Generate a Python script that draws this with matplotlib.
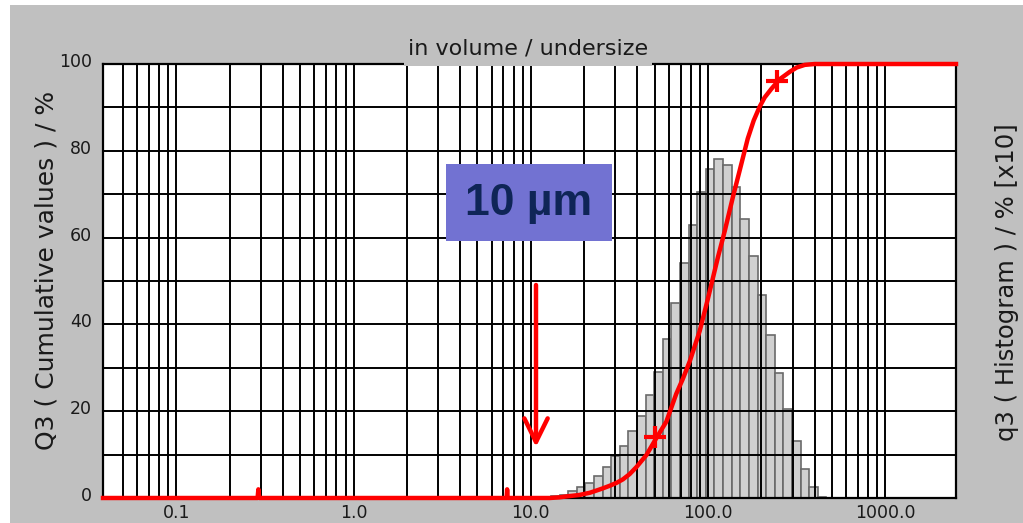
import numpy as np
import matplotlib
matplotlib.use("Agg")
import matplotlib.pyplot as plt
from matplotlib.patches import Rectangle
from matplotlib.transforms import ScaledTranslation

# ---------------- data ----------------
bin_edges_um = [11.62, 12.99, 14.53, 16.24, 18.17, 20.32, 22.72, 25.41, 28.42,
                31.78, 35.55, 39.76, 44.46, 49.72, 55.61, 62.19, 69.55, 77.80,
                87.01, 97.31, 108.8, 121.7, 136.1, 152.2, 170.3, 190.4, 213.0,
                238.2, 266.4, 297.9, 333.2, 372.7, 416.8, 466.2]
q3_hist = [0.2, 0.4, 0.7, 1.5, 2.5, 3.4, 5.1, 7.1, 9.7, 12.0, 15.5, 18.9, 23.7,
           29.1, 36.6, 44.9, 54.1, 62.9, 70.4, 75.8, 78.1, 76.7, 71.6, 64.2,
           55.8, 46.8, 37.6, 28.7, 20.4, 13.1, 6.6, 2.5, 0.3]

curve_x = [0.0385, 0.287, 0.29, 0.293, 7.3, 7.35, 7.4, 11.0, 12.8, 14.5, 15.8,
           18.8, 21.5, 23.4, 25.4, 27.8, 30.5, 33.1, 36.1, 39.4, 44.9, 51.1,
           58.2, 66.2, 72.2, 78.9, 89.8, 100.0, 113.8, 124.3, 138.3, 151.0,
           167.6, 181.2, 195.9, 208.9, 228.2, 254.0, 289.5, 317.0, 351.9,
           400.6, 2510.0]
curve_Q3 = [0, 0, 2, 0, 0, 2, 0, 0, 0, 0.15, 0.35,
            0.7, 1.2, 1.7, 2.2, 2.8, 3.5, 4.3, 5.5, 7.1, 9.9, 13.8,
            17.6, 24.0, 27.5, 31.5, 38.5, 46.0, 55.5, 61.5, 69.4, 75.5,
            82.8, 87.0, 90.2, 92.3, 94.3, 96.5, 98.2, 99.2, 99.8,
            100, 100]

marker_x = [50.5, 244.0]
marker_Q3 = [14.0, 96.0]

xtick_vals = [0.1, 1.0, 10.0, 100.0, 1000.0]
xtick_labels = ["0.1", "1.0", "10.0", "100.0", "1000.0"]
ytick_vals = [0, 20, 40, 60, 80, 100]

title_text = "in volume / undersize"
left_label = "Q3 ( Cumulative values ) / %"
right_label = "q3 ( Histogram ) / % [x10]"
box_text = "10 µm"

# ---------------- figure ----------------
W, H = 1023, 523
fig = plt.figure(figsize=(W / 100, H / 100), dpi=100, facecolor="white")

# gray panel
fig.add_artist(Rectangle((10 / W, 0), 1, (H - 5) / H, transform=fig.transFigure,
                         facecolor="#C0C0C0", edgecolor="none", zorder=0))

ax = fig.add_axes([103 / W, (H - 498) / H, 853 / W, 434 / H])
ax.set_facecolor("white")
ax.set_xscale("log")
ax.set_xlim(0.0385, 2510)
ax.set_ylim(0, 100)

# histogram bars
edges = np.array(bin_edges_um)
ax.bar(edges[:-1], q3_hist, width=np.diff(edges), align="edge",
       facecolor="#D0D0D0", edgecolor="#6A6A6A", linewidth=1.2, zorder=1)

# grid
for d in range(-2, 4):
    for m in range(1, 10):
        v = m * 10.0 ** d
        if 0.045 < v <= 1000.5:
            ax.axvline(v, color="black", lw=1.4, zorder=2)
for yv in range(0, 101, 10):
    ax.axhline(yv, color="black", lw=1.4, zorder=2)

# cumulative curve
ax.plot(curve_x, curve_Q3, color="#FF0000", lw=3.2, zorder=4,
        solid_joinstyle="round", clip_on=False)
ax.plot(marker_x, marker_Q3, linestyle="none", marker="+", markersize=16,
        markeredgewidth=3, color="#FF0000", zorder=5)

# spines / ticks
for s in ax.spines.values():
    s.set_color("black")
    s.set_linewidth(1.6)
ax.set_xticks(xtick_vals)
ax.set_xticklabels(xtick_labels)
ax.xaxis.set_minor_locator(matplotlib.ticker.NullLocator())
ax.set_yticks(ytick_vals)
ax.set_yticklabels([str(v) for v in ytick_vals])
ax.tick_params(axis="both", length=0, labelsize=12.5, colors="#1a1a1a")
ax.tick_params(axis="x", pad=4)
ax.tick_params(axis="y", pad=8)
off = ScaledTranslation(0, 0.04, fig.dpi_scale_trans)
for lab in ax.get_yticklabels():
    lab.set_transform(lab.get_transform() + off)

# title with gray background covering the top border
fig.add_artist(Rectangle((404 / W, (H - 66) / H), (652 - 404) / W, 12 / H,
                         transform=fig.transFigure, facecolor="#C0C0C0",
                         edgecolor="none", zorder=10))
fig.text(528 / W, (H - 49) / H, title_text, ha="center", va="center",
         fontsize=16, family="DejaVu Sans", color="#1a1a1a", zorder=11)

# axis labels
fig.text(47 / W, (H - 270) / H, left_label, rotation=90, ha="center",
         va="center", fontsize=18, family="DejaVu Sans", color="#1a1a1a")
fig.text(1007 / W, (H - 282) / H, right_label, rotation=90, ha="center",
         va="center", fontsize=17.5, family="DejaVu Sans", color="#1a1a1a")

# 10 µm box
fig.add_artist(Rectangle((446 / W, (H - 241) / H), (612 - 446) / W, 77 / H,
                         transform=fig.transFigure, facecolor="#7272D2",
                         edgecolor="none", zorder=12))
fig.text(529 / W, (H - 204) / H, box_text, ha="center", va="center",
         fontsize=32, fontweight="bold", family="Liberation Sans",
         color="#0F2557", zorder=13)

# red arrow
ax.annotate("", xy=(536, H - 447), xytext=(536, H - 285),
            xycoords="figure pixels", textcoords="figure pixels",
            arrowprops=dict(arrowstyle="->,head_length=0.85,head_width=0.42",
                            color="#FF0000", lw=3.2, mutation_scale=20,
                            shrinkA=0, shrinkB=0),
            zorder=14)

fig.savefig("out.png", dpi=100, facecolor=fig.get_facecolor())
